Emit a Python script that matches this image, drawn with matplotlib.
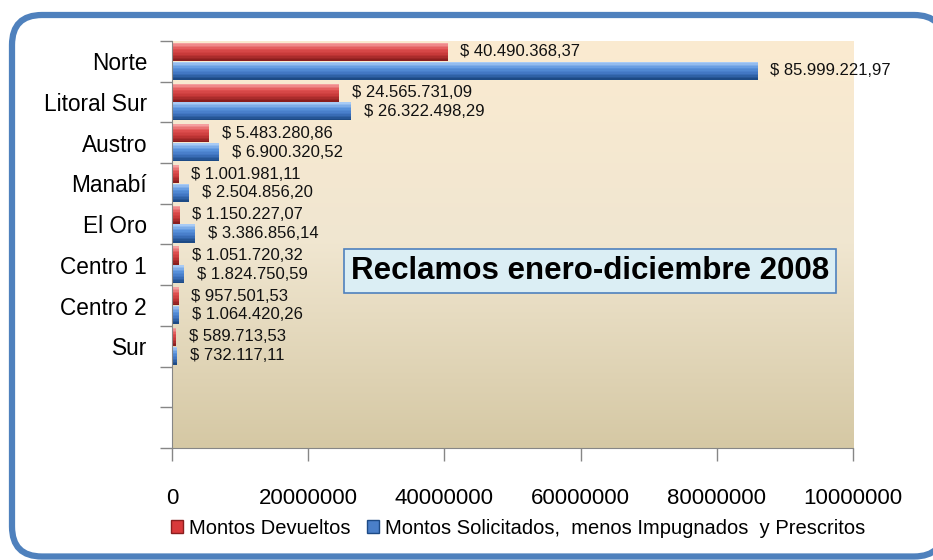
import matplotlib; matplotlib.use("agg")
import matplotlib.pyplot as plt
from matplotlib.patches import FancyBboxPatch, Patch
from matplotlib.colors import LinearSegmentedColormap
import numpy as np

regiones = ["Norte", "Litoral Sur", "Austro", "Manabí", "El Oro", "Centro 1", "Centro 2", "Sur"]
devueltos = [40490368.37, 24565731.09, 5483280.86, 1001981.11, 1150227.07, 1051720.32, 957501.53, 589713.53]
solicitados = [85999221.97, 26322498.29, 6900320.52, 2504856.20, 3386856.14, 1824750.59, 1064420.26, 732117.11]
xticks = [0, 20000000, 40000000, 60000000, 80000000, 100000000]
xtick_labels = ["0", "20000000", "40000000", "60000000", "80000000", "10000000"]

plt.rcParams['font.family'] = ['Liberation Sans', 'DejaVu Sans']

def fmt(v):
    s = f"{v:,.2f}".replace(",", "X").replace(".", ",").replace("X", ".")
    return "$ " + s

fig = plt.figure(figsize=(9.33, 5.6), dpi=100)

# rounded blue frame (runs off the right edge like the original)
frame = FancyBboxPatch((0.12, 0.035), 9.32, 5.415, boxstyle="round,pad=0,rounding_size=0.3",
                       transform=fig.dpi_scale_trans, fc="white", ec="#4F81BD", lw=4.5, zorder=-5)
fig.patches.append(frame)

ax = fig.add_axes([0.1844, 0.2, 0.73, 0.7268])
ax.set_xlim(0, 100000000)
ax.set_ylim(10, 0)

# background gradient of the plot area
grad = np.linspace(0, 1, 256).reshape(-1, 1)
bg = LinearSegmentedColormap.from_list("bg", ["#FBEBD1", "#F0E6D0", "#D5C8A4"])
ax.imshow(grad, cmap=bg, aspect="auto", extent=[0, 100000000, 10, 0], zorder=0)

# bars drawn as thin strips to fake the 3D shading
y = np.arange(len(regiones)) + 0.5
h = 0.44
red_cols = LinearSegmentedColormap.from_list("r", ["#F4A0A0", "#E05050", "#C53838", "#8A1E1E"])
blue_cols = LinearSegmentedColormap.from_list("b", ["#A8CBF5", "#5A93DD", "#3F74C0", "#1D4A85"])
n = 12
for k in range(n):
    off = -h / 2 + (k + 0.5) * h / n
    ax.barh(y - 0.23 + off, devueltos, height=h / n + 0.003, color=red_cols(k / (n - 1)), lw=0, zorder=2)
    ax.barh(y + 0.23 + off, solicitados, height=h / n + 0.003, color=blue_cols(k / (n - 1)), lw=0, zorder=2)

for yi, v in zip(y, devueltos):
    ax.annotate(fmt(v), (v, yi - 0.23), xytext=(9, 0), textcoords="offset points",
                va="center", ha="left", fontsize=12, color="#111111")
for yi, v in zip(y, solicitados):
    ax.annotate(fmt(v), (v, yi + 0.23), xytext=(9, 0), textcoords="offset points",
                va="center", ha="left", fontsize=12, color="#111111")

ax.set_yticks(np.arange(0, 11))
ax.set_yticklabels([])
ax.set_yticks(y, minor=True)
ax.set_yticklabels(regiones, minor=True, fontsize=16.3)
ax.tick_params(axis="y", which="minor", length=0, pad=18)
ax.tick_params(axis="y", which="major", length=9, color="#868686", width=1)
ax.set_xticks(xticks)
ax.set_xticklabels(xtick_labels, fontsize=16)
ax.tick_params(axis="x", length=9, color="#868686", width=1, pad=20)
for s in ["top", "right"]:
    ax.spines[s].set_visible(False)
for s in ["left", "bottom"]:
    ax.spines[s].set_color("#868686")

fig.text(590 / 933, 1 - 271 / 560, "Reclamos enero-diciembre 2008", ha="center", va="center",
         fontsize=22.5, fontweight="bold",
         bbox=dict(boxstyle="square,pad=0.22", fc="#DBEEF4", ec="#4F81BD", lw=1.2))

handles = [Patch(fc="#D9393B", ec="#8A1E1E", label="Montos Devueltos"),
           Patch(fc="#4A7FC9", ec="#1D4A85", label="Montos Solicitados,  menos Impugnados  y Prescritos")]
fig.legend(handles=handles, loc="center", bbox_to_anchor=(518 / 933, 1 - 528 / 560), ncol=2,
           frameon=False, fontsize=14.5, handlelength=0.6, handleheight=0.6, handletextpad=0.3,
           columnspacing=0.8, borderpad=0)

fig.savefig("out.png", dpi=100)
